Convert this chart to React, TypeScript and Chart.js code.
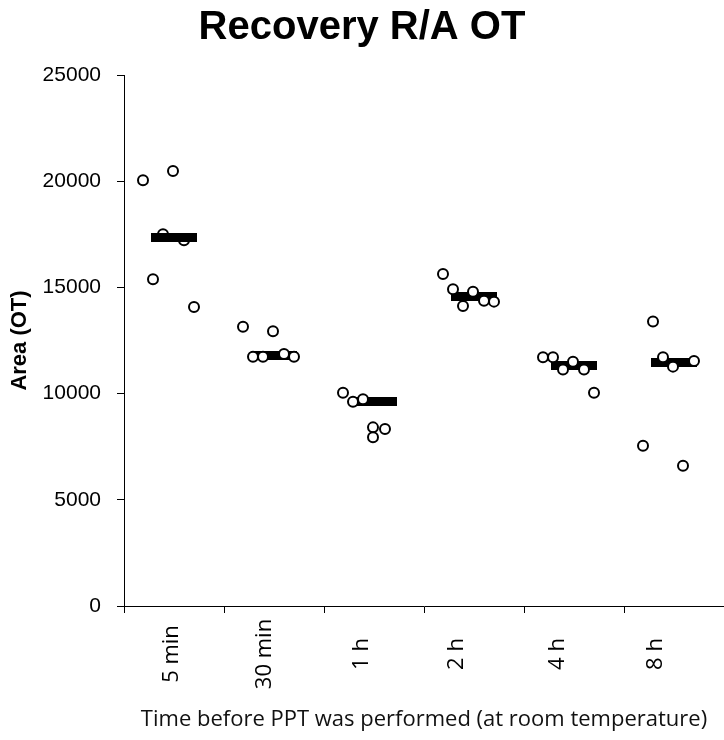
import React, { useEffect, useRef } from 'react';
import { Chart, registerables } from 'chart.js';

Chart.register(...registerables);

// ---- data ----
const CATEGORIES = ['5 min', '30 min', '1 h', '2 h', '4 h', '8 h'];

const VALUES_5MIN = [20050, 15380, 17500, 20480, 17220, 14080];
const VALUES_30MIN = [13150, 11740, 11740, 12930, 11860, 11740];
const VALUES_1H = [10040, 9620, 9730, 8410, 8330, 7940];
const VALUES_2H = [15630, 14910, 14120, 14800, 14370, 14330];
const VALUES_4H = [11710, 11710, 11140, 11500, 11140, 10040];
const VALUES_8H = [7550, 13390, 11710, 11270, 6600, 11540];

// horizontal jitter of each point inside its category (category units)
const JITTER_5MIN = [0.19, 0.29, 0.39, 0.49, 0.6, 0.7];
const JITTER_30MIN = [0.19, 0.29, 0.39, 0.49, 0.6, 0.7];
const JITTER_1H = [0.19, 0.29, 0.39, 0.49, 0.61, 0.49];
const JITTER_2H = [0.19, 0.29, 0.39, 0.49, 0.6, 0.7];
const JITTER_4H = [0.19, 0.29, 0.39, 0.49, 0.6, 0.7];
const JITTER_8H = [0.19, 0.29, 0.39, 0.49, 0.59, 0.7];

const MEDIANS = [17340, 11780, 9620, 14590, 11330, 11450];
const MEDIAN_POS = 0.495;

const Y_MIN = 0;
const Y_MAX = 25000;
const Y_STEP = 5000;

const TITLE = 'Recovery R/A OT';
const Y_TITLE = 'Area (OT)';
const X_TITLE = 'Time before PPT was performed (at room temperature)';

// ---- layout / style constants ----
const LABEL_DX = [-2, -9, -12, -17, -16, -18];
const LABEL_CENTER_BELOW_AXIS = 48;
const SANS = '"Liberation Sans", Arial, sans-serif';
const UI = '"Open Sans", "Noto Sans", sans-serif';

const GROUPS = [VALUES_5MIN, VALUES_30MIN, VALUES_1H, VALUES_2H, VALUES_4H, VALUES_8H];
const JITTERS = [JITTER_5MIN, JITTER_30MIN, JITTER_1H, JITTER_2H, JITTER_4H, JITTER_8H];

export default function App() {
  const ref = useRef<HTMLCanvasElement | null>(null);

  useEffect(() => {
    const canvas = ref.current;
    if (!canvas) return;

    const bar = document.createElement('canvas');
    bar.width = 46;
    bar.height = 9;
    const bctx = bar.getContext('2d');
    if (bctx) {
      bctx.fillStyle = '#000';
      bctx.fillRect(0, 0, 46, 9);
    }

    const points: { x: number; y: number }[] = [];
    GROUPS.forEach((vals, i) => {
      vals.forEach((v, j) => points.push({ x: i + JITTERS[i][j], y: v }));
    });
    const medianPts = MEDIANS.map((m, i) => ({ x: i + MEDIAN_POS, y: m }));
    const medianFront = medianPts.filter((_, i) => i === 0);
    const medianBack = medianPts.filter((_, i) => i !== 0);

    const catLabels = {
      id: 'catLabels',
      afterDraw(chart: any) {
        const xs = chart.scales.x;
        const c = chart.ctx;
        c.save();
        c.font = `22px ${UI}`;
        c.fillStyle = '#000';
        c.textAlign = 'center';
        c.textBaseline = 'middle';
        const y = chart.chartArea.bottom + LABEL_CENTER_BELOW_AXIS;
        CATEGORIES.forEach((label, i) => {
          const x = xs.getPixelForValue(i + 0.5) + LABEL_DX[i];
          c.save();
          c.translate(x, y);
          c.rotate(-Math.PI / 2);
          c.fillText(label, 0, 0);
          c.restore();
        });
        c.restore();
      },
    };

    const chart = new Chart(canvas, {
      type: 'scatter',
      data: {
        datasets: [
          {
            label: 'median-front',
            data: medianFront,
            pointStyle: bar as any,
            pointRadius: 5,
            order: 0,
          },
          {
            label: 'values',
            data: points,
            pointStyle: 'circle',
            pointRadius: 5,
            pointBorderWidth: 2,
            borderColor: '#000',
            backgroundColor: '#fff',
            pointBackgroundColor: '#fff',
            pointBorderColor: '#000',
            order: 1,
          },
          {
            label: 'median-back',
            data: medianBack,
            pointStyle: bar as any,
            pointRadius: 5,
            order: 2,
          },
        ],
      },
      options: {
        animation: false,
        responsive: true,
        maintainAspectRatio: false,
        events: [],
        layout: { padding: 0, autoPadding: false },
        plugins: {
          legend: { display: false },
          tooltip: { enabled: false },
          title: {
            display: true,
            text: TITLE,
            color: '#000',
            font: { family: SANS, size: 40, weight: 'bold' },
            padding: { top: 4, bottom: 23 },
          },
        },
        scales: {
          x: {
            type: 'linear',
            min: 0,
            max: CATEGORIES.length,
            afterFit: (s: any) => {
              s.height = 134;
            },
            ticks: { display: false, stepSize: 1 },
            grid: {
              drawOnChartArea: false,
              drawTicks: true,
              tickLength: 7,
              color: '#000',
              lineWidth: 1,
            },
            border: { display: true, color: '#000', width: 1 },
            title: {
              display: true,
              text: X_TITLE,
              color: '#111',
              font: { family: UI, size: 22 },
              padding: { top: 0, bottom: 7 },
            },
          },
          y: {
            type: 'linear',
            min: Y_MIN,
            max: Y_MAX,
            afterFit: (s: any) => {
              s.width = 124;
            },
            ticks: {
              stepSize: Y_STEP,
              color: '#000',
              padding: 16,
              font: { family: SANS, size: 21 },
              callback: (v: any) => String(v),
            },
            grid: {
              drawOnChartArea: false,
              drawTicks: true,
              tickLength: 7,
              color: '#000',
              lineWidth: 1,
            },
            border: { display: true, color: '#000', width: 1 },
            title: {
              display: true,
              text: Y_TITLE,
              color: '#000',
              font: { family: SANS, size: 22, weight: 'bold' },
              padding: { top: 7, bottom: 0 },
            },
          },
        },
      },
      plugins: [catLabels],
    });

    return () => {
      chart.destroy();
    };
  }, []);

  return (
    <div style={{ position: 'absolute', left: 0, top: 0, width: 724, height: 740 }}>
      <canvas ref={ref} />
    </div>
  );
}
